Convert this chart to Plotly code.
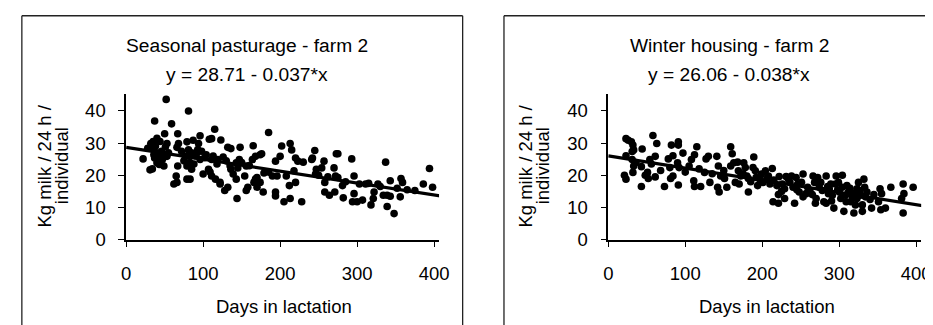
import plotly.graph_objects as go

W, H = 933, 325

# ---------------- data ----------------
titles = ["Seasonal pasturage - farm 2", "Winter housing - farm 2"]
equations = ["y = 28.71 - 0.037*x", "y = 26.06 - 0.038*x"]
intercepts = [28.71, 26.06]
slopes = [-0.037, -0.038]
line_days = [0, 409]
x_ticks = [0, 100, 200, 300, 400]
y_ticks = [0, 10, 20, 30, 40]
x_title = "Days in lactation"
y_title_lines = ["Kg milk / 24 h /", "individual"]

days_pasture = [22, 31, 34, 37, 52, 59, 81, 115, 185, 96, 108, 111, 123, 67, 50, 40, 39, 132, 136, 148,
                165, 176, 213, 202, 215, 245, 273, 275, 293, 337, 394, 398, 386, 348, 339, 318, 343, 356,
                357, 359, 343, 334, 339, 322, 321, 327, 300, 307, 296, 294, 296, 303, 311, 282, 281, 271,
                264, 258, 270, 272, 275, 257, 254, 247, 246, 258, 241, 242, 228, 223, 230, 220, 220, 213,
                212, 218, 205, 208, 200, 194, 194, 194, 196, 190, 179, 178, 174, 170, 168, 170, 166, 164,
                168, 174, 156, 158, 156, 154, 147, 143, 145, 144, 143, 139, 136, 132, 128, 122, 122, 126,
                119, 116, 111, 109, 107, 111, 104, 100, 96, 92, 94, 87, 85, 79, 79, 83, 77, 81, 79, 68,
                66, 67, 65, 62, 66, 51, 53, 49, 45, 47, 43, 41, 36, 34, 32, 40, 43, 36, 37, 28, 50, 53,
                85, 90, 98, 102, 113, 118, 130, 135, 150, 160, 185, 250, 262, 285, 315, 330, 352, 365,
                375, 38, 44, 35, 46, 55, 72, 75, 88, 93, 80, 83]
milk_pasture = [25.1, 21.7, 22.0, 36.9, 43.6, 36.0, 40.0, 34.3, 33.3, 32.3, 31.2, 31.4, 31.0, 32.9, 32.9,
                31.5, 30.5, 28.7, 28.3, 28.7, 29.2, 26.7, 29.9, 29.1, 27.9, 27.7, 26.7, 26.7, 25.1, 24.1,
                22.1, 16.3, 17.3, 8.1, 10.3, 10.8, 13.5, 13.3, 19.0, 17.8, 18.3, 13.8, 13.8, 14.8, 12.8,
                17.3, 11.8, 12.3, 19.8, 11.8, 14.3, 17.3, 17.3, 13.0, 16.8, 14.8, 13.8, 14.8, 22.3, 19.8,
                19.3, 24.4, 22.3, 21.9, 20.4, 17.8, 24.9, 25.4, 11.8, 24.4, 24.1, 25.4, 17.8, 12.8, 16.8,
                21.4, 11.8, 19.8, 25.9, 24.4, 14.8, 13.6, 19.8, 19.8, 20.7, 14.8, 17.8, 19.3, 18.8, 16.3,
                17.8, 24.9, 25.9, 26.4, 22.9, 16.3, 15.3, 19.8, 24.9, 23.9, 22.3, 12.8, 18.8, 20.4, 21.9,
                16.3, 15.3, 17.8, 17.3, 25.7, 24.9, 18.8, 19.8, 21.0, 21.9, 24.9, 26.4, 20.4, 24.9, 26.9,
                29.9, 30.9, 21.9, 22.9, 18.8, 18.8, 25.9, 27.9, 30.4, 29.9, 28.7, 22.9, 19.8, 17.3, 17.8,
                28.9, 29.9, 22.9, 23.9, 24.9, 25.9, 26.9, 27.9, 28.9, 29.9, 23.9, 23.4, 26.4, 25.4, 28.4,
                26.4, 25.9, 27.0, 26.0, 27.5, 25.5, 26.0, 23.5, 24.5, 23.0, 24.0, 23.0, 21.0, 20.0, 19.5,
                18.0, 17.5, 16.5, 16.0, 15.5, 15.3, 29.0, 30.5, 30.5, 27.5, 27.0, 27.5, 24.5, 23.5, 28.0,
                26.0, 24.0]

days_winter = [23, 26, 30, 32, 33, 31, 23, 21, 23, 31, 33, 32, 44, 43, 43, 48, 52, 51, 54, 58, 63, 61, 61,
               73, 78, 80, 82, 84, 81, 84, 91, 91, 90, 92, 91, 97, 105, 108, 112, 115, 111, 112, 120, 125,
               127, 130, 132, 141, 143, 142, 144, 146, 151, 154, 159, 161, 159, 163, 165, 168, 169, 172,
               170, 176, 178, 180, 182, 182, 189, 188, 191, 192, 194, 197, 199, 201, 204, 206, 208, 210,
               213, 214, 221, 219, 221, 222, 229, 226, 229, 231, 234, 236, 238, 240, 242, 244, 246, 248,
               251, 253, 253, 257, 259, 266, 268, 269, 270, 272, 274, 276, 278, 280, 283, 283, 286, 287,
               289, 291, 293, 295, 296, 299, 300, 302, 304, 304, 306, 308, 309, 310, 312, 315, 317, 319,
               321, 323, 323, 325, 327, 330, 330, 332, 333, 334, 336, 342, 351, 353, 355, 354, 360, 367,
               383, 384, 381, 383, 396, 36, 56, 68, 100, 118, 135, 150, 175, 185, 215, 225, 245, 262,
               285, 298, 314, 320, 328, 340, 345, 290, 265]
milk_winter = [31.4, 30.9, 30.4, 29.4, 27.9, 27.4, 26.1, 20.0, 18.8, 24.9, 22.9, 20.9, 28.2, 22.7, 16.5,
               20.0, 19.0, 20.9, 24.9, 32.4, 29.9, 25.9, 19.5, 16.5, 25.1, 22.4, 29.4, 26.1, 19.0, 19.8,
               30.4, 29.4, 23.9, 22.4, 17.0, 26.9, 22.9, 24.9, 26.4, 28.9, 18.3, 16.5, 16.5, 20.9, 25.1,
               25.9, 17.8, 25.9, 22.9, 16.3, 14.8, 19.8, 19.0, 16.3, 28.9, 26.7, 22.9, 23.9, 17.8, 24.1,
               21.4, 19.8, 17.3, 23.9, 22.4, 19.8, 19.0, 14.8, 25.7, 22.4, 21.4, 19.3, 16.8, 18.8, 20.4,
               17.8, 21.4, 18.8, 19.8, 17.3, 22.1, 11.8, 11.3, 16.8, 14.0, 19.6, 12.8, 17.3, 15.8, 19.6,
               18.8, 17.8, 19.8, 16.3, 11.3, 19.3, 17.3, 14.8, 17.8, 13.3, 20.4, 14.3, 16.3, 19.8, 17.8,
               11.3, 12.8, 19.3, 16.3, 17.8, 15.3, 11.8, 19.8, 11.3, 14.3, 15.8, 17.3, 13.8, 9.8, 17.3,
               19.8, 17.8, 14.8, 12.8, 20.0, 16.3, 8.8, 13.8, 11.8, 16.8, 14.8, 11.8, 13.3, 8.3, 10.8,
               15.8, 12.8, 17.8, 15.3, 8.8, 10.8, 18.8, 16.3, 13.3, 14.8, 9.8, 11.8, 15.8, 14.3, 9.3, 9.8,
               16.3, 17.3, 14.3, 12.8, 8.3, 16.3, 24.0, 23.5, 21.5, 21.0, 22.0, 20.5, 21.5, 20.5, 18.0,
               18.5, 15.0, 15.5, 15.0, 16.5, 15.5, 16.0, 14.5, 13.8, 12.5, 14.0, 12.0, 14.0]

# ---------------- layout geometry (pixels) ----------------
FONT = "Liberation Sans, Arial, Helvetica, sans-serif"
FS = 18.5
FS_TITLE = 19.2
panels = [
    dict(x0=115, x1=433, box=(9, 457), title_x=238, ylab_x=(32, 50), xt_x=275),
    dict(x0=605, x1=923, box=(499, 947), title_x=728, ylab_x=(521, 539), xt_x=766),
]
y_top, y_bot = 89, 239
x_max = 406.4
y_max = 45.2


def px(x):
    return x / W


def py(y):
    return 1 - y / H


fig = go.Figure()
series = [(days_pasture, milk_pasture), (days_winter, milk_winter)]
annotations = []
shapes = []
for i, (p, (dx, my)) in enumerate(zip(panels, series)):
    sfx = "" if i == 0 else str(i + 1)
    fig.add_trace(go.Scatter(
        x=dx, y=my, mode="markers", xaxis="x" + sfx, yaxis="y" + sfx,
        marker=dict(size=7.6, color="black", line=dict(width=0)),
        showlegend=False, cliponaxis=False,
    ))
    fig.add_trace(go.Scatter(
        x=line_days, y=[intercepts[i] + slopes[i] * d for d in line_days],
        mode="lines", xaxis="x" + sfx, yaxis="y" + sfx,
        line=dict(color="black", width=3.2), showlegend=False, cliponaxis=False,
    ))
    axis_common = dict(showgrid=False, zeroline=False, showline=True, linecolor="black",
                       linewidth=1.5, ticks="outside", ticklen=6, tickwidth=1.3,
                       tickcolor="black", tickfont=dict(family=FONT, size=FS, color="black"))
    fig.update_layout(**{
        "xaxis" + sfx: dict(domain=[px(p["x0"]), px(p["x1"])], range=[0, x_max],
                            tickvals=x_ticks, anchor="y" + sfx, ticklabelstandoff=10,
                            **axis_common),
        "yaxis" + sfx: dict(domain=[py(y_bot), py(y_top)], range=[0, y_max],
                            tickvals=y_ticks, anchor="x" + sfx, ticklabelstandoff=9,
                            **axis_common),
    })
    # titles
    annotations.append(dict(text=titles[i], x=px(p["title_x"]), y=py(39), xref="paper", yref="paper",
                            showarrow=False, xanchor="center", yanchor="middle",
                            font=dict(family=FONT, size=FS_TITLE, color="black")))
    annotations.append(dict(text=equations[i], x=px(p["title_x"]), y=py(69), xref="paper", yref="paper",
                            showarrow=False, xanchor="center", yanchor="middle",
                            font=dict(family=FONT, size=FS_TITLE, color="black")))
    # y-axis title (two lines)
    for line_txt, lx in zip(y_title_lines, p["ylab_x"]):
        annotations.append(dict(text=line_txt, x=px(lx), y=py(163), xref="paper", yref="paper",
                                showarrow=False, xanchor="center", yanchor="middle", textangle=-90,
                                font=dict(family=FONT, size=FS, color="black")))
    # x-axis title
    annotations.append(dict(text=x_title, x=px(p["xt_x"]), y=py(308), xref="paper", yref="paper",
                            showarrow=False, xanchor="center", yanchor="middle",
                            font=dict(family=FONT, size=FS, color="black")))
    # panel border (open at bottom, runs off the image)
    bx0, bx1 = p["box"]
    for (xa, ya, xb, yb) in [(bx0, 8, bx1, 8), (bx0, 8, bx0, 330), (bx1, 8, bx1, 330)]:
        shapes.append(dict(type="line", xref="paper", yref="paper",
                           x0=px(xa), y0=py(ya), x1=px(xb), y1=py(yb),
                           line=dict(color="#222222", width=1.3)))

fig.update_layout(
    width=W, height=H, margin=dict(l=0, r=0, t=0, b=0),
    paper_bgcolor="white", plot_bgcolor="white",
    annotations=annotations, shapes=shapes,
    font=dict(family=FONT, size=FS, color="black"),
)

fig.write_html("out.html")
